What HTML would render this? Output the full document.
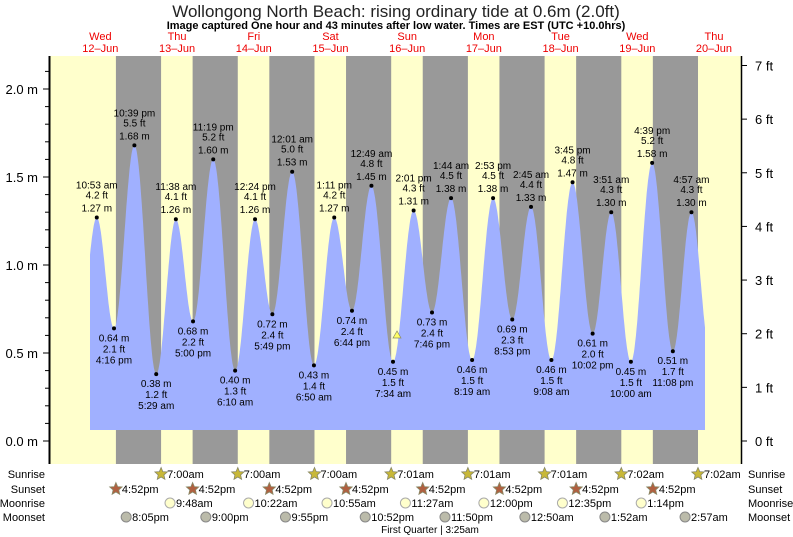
<!DOCTYPE html>
<html><head><meta charset="utf-8"><style>
body{margin:0;background:#fff;width:793px;height:537px;overflow:hidden}
svg{display:block;font-family:"Liberation Sans",sans-serif}
</style></head><body>
<svg id="s" width="793" height="537" xmlns="http://www.w3.org/2000/svg"></svg>
<script>
const s=document.getElementById('s');let h='';
const X=t=>62+t*3.196, Y=m=>441-m*176;
h+='<rect x="50" y="56" width="691" height="408" fill="#ffffcc"/>';
for(let d=0;d<8;d++){const a=X(d*24+16.87),b=X(d*24+31);h+=`<rect x="${a}" y="56" width="${b-a}" height="408" fill="#999"/>`;}
const tides=[[10.88,1.27],[16.27,0.64],[22.65,1.68],[29.48,0.38],[35.63,1.26],[41,0.68],[47.32,1.60],[54.17,0.40],[60.4,1.26],[65.82,0.72],[72.02,1.53],[78.83,0.43],[85.18,1.27],[90.73,0.74],[96.82,1.45],[103.57,0.45],[110.02,1.31],[115.77,0.73],[121.73,1.38],[128.32,0.46],[134.88,1.38],[140.88,0.69],[146.75,1.33],[153.13,0.46],[159.75,1.47],[166.03,0.61],[171.85,1.30],[178,0.45],[184.65,1.58],[191.13,0.51],[196.95,1.30]];
const lab=["10:53 am","4:16 pm","10:39 pm","5:29 am","11:38 am","5:00 pm","11:19 pm","6:10 am","12:24 pm","5:49 pm","12:01 am","6:50 am","1:11 pm","6:44 pm","12:49 am","7:34 am","2:01 pm","7:46 pm","1:44 am","8:19 am","2:53 pm","8:53 pm","2:45 am","9:08 am","3:45 pm","10:02 pm","3:51 am","10:00 am","4:39 pm","11:08 pm","4:57 am"];
const ts=(90-62)/3.196, te=(705-62)/3.196;
function hgt(t){for(let i=0;i<tides.length-1;i++){const[a,ha]=tides[i],[b,hb]=tides[i+1];if(t>=a&&t<=b){const f=(1-Math.cos(Math.PI*(t-a)/(b-a)))/2;return ha+(hb-ha)*f;}}
 const i=t<tides[0][0]?0:tides.length-2;const[a,ha]=tides[i],[b,hb]=tides[i+1];const f=(1-Math.cos(Math.PI*(t-a)/(b-a)))/2;return ha+(hb-ha)*f;}
let p=`M${X(ts)},430`;for(let t=ts;t<=te;t+=0.2)p+=`L${X(t).toFixed(1)},${Y(hgt(t)).toFixed(1)}`;p+=`L${X(te)},${Y(hgt(te))}L${X(te)},430Z`;
h+=`<path d="${p}" fill="#a0b0ff"/>`;
tides.forEach(([t,m],i)=>{const x=X(t),y=Y(m),hi=i%2==0,ft=(m/0.3048).toFixed(1);
h+=`<circle cx="${x}" cy="${y}" r="2" fill="#000"/>`;
const L=[lab[i],ft+" ft",m.toFixed(2)+" m"];
if(hi){h+=`<text x="${x}" y="${y-29}" font-size="10" text-anchor="middle">${L[0]}</text><text x="${x}" y="${y-19}" font-size="10" text-anchor="middle">${L[1]}</text><text x="${x}" y="${y-6}" font-size="10" text-anchor="middle">${L[2]}</text>`;}
else{h+=`<text x="${x}" y="${y+13}" font-size="10" text-anchor="middle">${L[2]}</text><text x="${x}" y="${y+24}" font-size="10" text-anchor="middle">${L[1]}</text><text x="${x}" y="${y+35}" font-size="10" text-anchor="middle">${L[0]}</text>`;}});
h+='<polygon points="397,331 393,338 401,338" fill="#ffff66" stroke="#886" stroke-width="0.7"/>';
h+='<line x1="49.5" y1="56" x2="49.5" y2="464" stroke="#000" stroke-width="2"/><line x1="741.5" y1="56" x2="741.5" y2="464" stroke="#000" stroke-width="1.5"/>';
for(let m=0;m<=2.15;m+=0.1){const y=Y(m),maj=Math.abs(m*2-Math.round(m*2))<0.01;h+=`<line x1="${maj?43:45}" y1="${y}" x2="49" y2="${y}" stroke="#000"/>`;if(maj)h+=`<text x="38" y="${y+5}" font-size="13" text-anchor="end">${m.toFixed(1)} m</text>`;}
for(let f=0;f<=7;f++){const y=441-f*0.3048*176;h+=`<line x1="741" y1="${y}" x2="747" y2="${y}" stroke="#000"/><text x="755" y="${y+5}" font-size="13">${f} ft</text>`;}
const days=[["Wed","12–Jun"],["Thu","13–Jun"],["Fri","14–Jun"],["Sat","15–Jun"],["Sun","16–Jun"],["Mon","17–Jun"],["Tue","18–Jun"],["Wed","19–Jun"],["Thu","20–Jun"]];
days.forEach((d,i)=>{const x=X(i*24+12);h+=`<text x="${x}" y="40" font-size="11" fill="#e00" text-anchor="middle">${d[0]}</text><text x="${x}" y="52" font-size="11" fill="#e00" text-anchor="middle">${d[1]}</text>`;});
h+='<text x="396" y="17" font-size="17" text-anchor="middle" fill="#222">Wollongong North Beach: rising  ordinary tide at 0.6m (2.0ft)</text>';
h+='<text x="396" y="29" font-size="11" font-weight="bold" text-anchor="middle">Image captured One hour and 43 minutes after low water. Times are EST (UTC +10.0hrs)</text>';
[["Sunrise",474],["Sunset",489],["Moonrise",503],["Moonset",517]].forEach(([n,y])=>{h+=`<text x="45" y="${y+4}" font-size="11" text-anchor="end">${n}</text><text x="748" y="${y+4}" font-size="11">${n}</text>`;});
function star(x,y,c){let q='';for(let k=0;k<10;k++){const r=k%2?3:6.5,a=-Math.PI/2+k*Math.PI/5;q+=(x+r*Math.cos(a)).toFixed(1)+','+(y+r*Math.sin(a)).toFixed(1)+' ';}return `<polygon points="${q}" fill="${c}" stroke="#886" stroke-width="0.8"/>`;}
const sr=["7:00am","7:00am","7:00am","7:01am","7:01am","7:01am","7:02am","7:02am"];
for(let d=1;d<=8;d++){const x=X(d*24+7);h+=star(x,474,"#c8b838")+`<text x="${x+6}" y="478" font-size="11">${sr[d-1]}</text>`;}
for(let d=0;d<8;d++){const x=X(d*24+16.87);h+=star(x,489,"#b06040")+`<text x="${x+6}" y="493" font-size="11">4:52pm</text>`;}
const mr=[[33.8,"9:48am"],[58.37,"10:22am"],[82.92,"10:55am"],[107.45,"11:27am"],[132,"12:00pm"],[156.58,"12:35pm"],[181.23,"1:14pm"]];
mr.forEach(([t,l])=>{const x=X(t);h+=`<circle cx="${x}" cy="503" r="5" fill="#ffffcc" stroke="#aaa"/><text x="${x+6}" y="507" font-size="11">${l}</text>`;});
const ms=[[20.08,"8:05pm"],[45,"9:00pm"],[69.92,"9:55pm"],[94.87,"10:52pm"],[119.83,"11:50pm"],[144.83,"12:50am"],[169.87,"1:52am"],[194.95,"2:57am"]];
ms.forEach(([t,l])=>{const x=X(t);h+=`<circle cx="${x}" cy="517" r="5" fill="#bbbbaa" stroke="#888"/><text x="${x+6}" y="521" font-size="11">${l}</text>`;});
h+='<text x="430" y="533" font-size="10" text-anchor="middle">First Quarter | 3:25am</text>';
s.innerHTML=h;
</script></body></html>
